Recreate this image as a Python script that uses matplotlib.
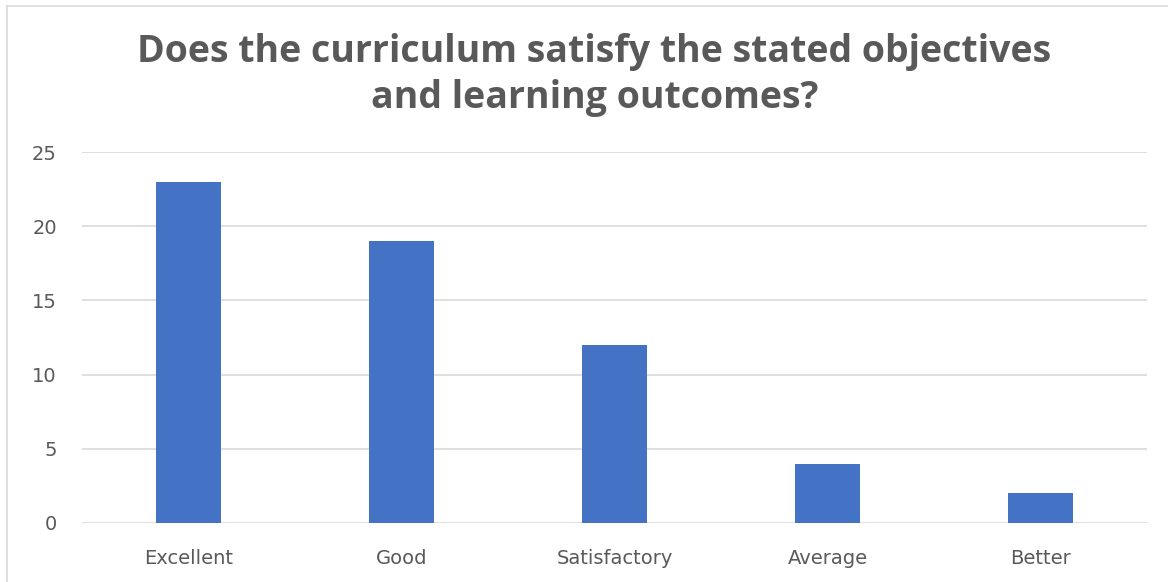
import matplotlib.pyplot as plt
from matplotlib.lines import Line2D

categories = ["Excellent", "Good", "Satisfactory", "Average", "Better"]
counts = [23, 19, 12, 4, 2]
yticks = [0, 5, 10, 15, 20, 25]

plt.rcParams['font.family'] = ['Open Sans', 'DejaVu Sans']

fig = plt.figure(figsize=(11.68, 5.82), dpi=100)
ax = fig.add_axes([0.0702, 0.1014, 0.9118, 0.6374])

x = range(len(categories))
ax.bar(x, counts, width=0.305, color='#4472C4', zorder=3)

ax.set_xlim(-0.5, len(categories) - 0.5)
ax.set_ylim(0, 25)
ax.set_yticks(yticks)
ax.set_xticks(list(x))
ax.set_xticklabels(categories)
ax.grid(axis='y', color='#d9d9d9', linewidth=1.2, zorder=0)
for s in ax.spines.values():
    s.set_visible(False)
ax.tick_params(length=0, labelsize=14, labelcolor='#595959')
for lbl in ax.get_xticklabels() + ax.get_yticklabels():
    lbl.set_family('DejaVu Sans')
ax.tick_params(axis='y', pad=18)
ax.tick_params(axis='x', pad=19)

fig.text(0.509, 0.871, "Does the curriculum satisfy the stated objectives\nand learning outcomes?",
         ha='center', va='center', fontsize=27, fontweight='bold', color='#595959',
         linespacing=1.25)

# chart border (only top and left edges visible in the crop)
fig.add_artist(Line2D([0.006, 1.0], [0.99, 0.99], transform=fig.transFigure, color='#d9d9d9', lw=1.2))
fig.add_artist(Line2D([0.006, 0.006], [0.0, 0.99], transform=fig.transFigure, color='#d9d9d9', lw=1.2))

fig.savefig('out.png', dpi=100)
